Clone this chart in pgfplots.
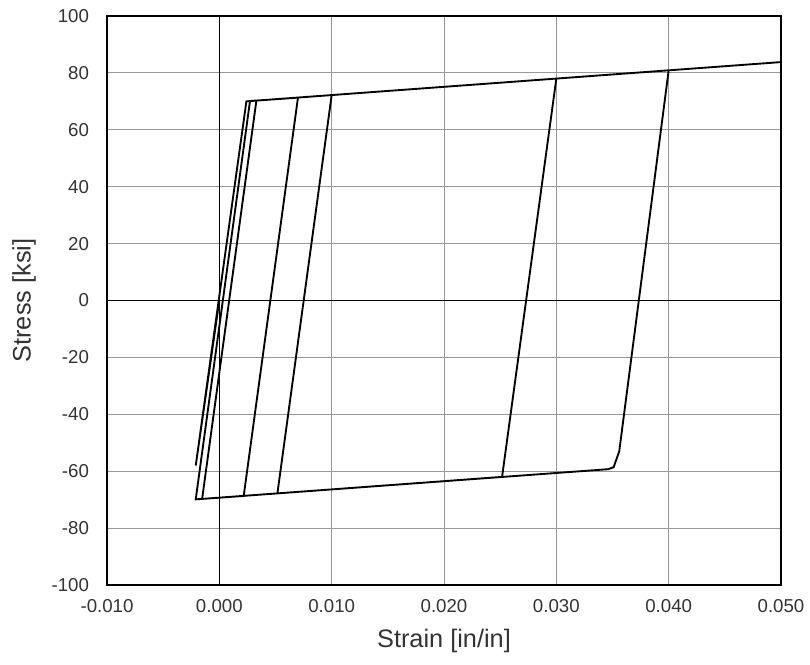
\documentclass[border=0pt]{standalone}
\usepackage{pgfplots}
\pgfplotsset{compat=1.18}
\usepackage{fontspec}
\setmainfont{Liberation Sans}

% stress-strain history, strain [in/in] vs stress [ksi]
\pgfplotstableread{
x        y
0.0      0.0
-0.0021  -58.0
0.00241  70.0
0.0033   70.3
-0.00153 -69.7
-0.0021  -69.9
0.00273  70.1
0.0070   71.3
0.00217  -68.7
-0.0021  -69.9
0.00273  70.1
0.0100   72.2
0.00517  -67.8
-0.0021  -69.9
0.00273  70.1
0.0300   78.0
0.02517  -62.0
-0.0021  -69.9
0.00273  70.1
0.0400   80.9
0.0356   -53.0
0.0351   -58.6
0.0346   -59.3
-0.0021  -69.9
0.00273  70.1
0.0500   83.8
}\strain

\begin{document}
\begin{tikzpicture}
\begin{axis}[
    scale only axis,
    width=505.5pt, height=426.75pt,
    xmin=-0.010, xmax=0.050,
    ymin=-100, ymax=100,
    xtick={-0.01,0,0.01,0.02,0.03,0.04,0.05},
    ytick={-100,-80,...,100},
    scaled x ticks=false,
    xticklabel style={/pgf/number format/fixed, /pgf/number format/fixed zerofill, /pgf/number format/precision=3, yshift=-7pt},
    yticklabel style={xshift=-10pt},
    /pgf/number format/assume math mode=true,
    tick label style={font=\fontsize{14}{16}\selectfont, text=black!80},
    major tick length=0pt,
    grid=major,
    grid style={black!40, line width=0.7pt},
    axis line style={black, line width=1pt},
    extra x ticks={0}, extra x tick labels={},
    extra y ticks={0}, extra y tick labels={},
    extra tick style={grid style={black, line width=1pt}},
    xlabel={Strain [in/in]},
    ylabel={Stress [ksi]},
    label style={font=\fontsize{19}{22}\selectfont, text=black!80},
    xlabel style={yshift=-6pt},
    ylabel style={yshift=5pt},
    clip=false,
]
\addplot[black, line width=1.4pt, line join=miter] table[x=x, y=y] {\strain};
\end{axis}
\pgfresetboundingbox
\path[use as bounding box] (current axis.south west) ++(-80.25pt,-59.25pt) rectangle ([shift={(21.75pt,12pt)}]current axis.north east);
\end{tikzpicture}
\end{document}
